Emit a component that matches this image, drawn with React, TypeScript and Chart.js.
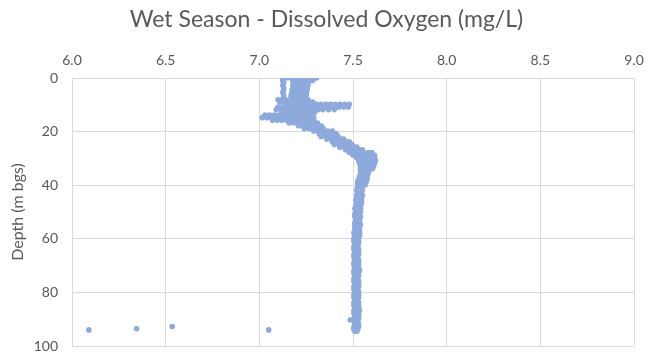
import React, { useEffect, useRef } from "react";
import { Chart, registerables } from "chart.js";

Chart.register(...registerables);

const chartTitle = "Wet Season - Dissolved Oxygen (mg/L)";
const yAxisTitle = "Depth (m bgs)";
const xTicks = [6.0, 6.5, 7.0, 7.5, 8.0, 8.5, 9.0];
const yTicks = [0, 20, 40, 60, 80, 100];

// rows: [depth (m bgs), ...dissolved oxygen readings (mg/L)]
const surfaceRows: number[][] = [
  [0.0, 7.125, 7.15, 7.17, 7.19, 7.21, 7.23, 7.25, 7.27, 7.29, 7.305],
  [0.9, 7.125, 7.18, 7.2, 7.22, 7.24, 7.265, 7.285],
  [1.8, 7.13, 7.18, 7.2, 7.22, 7.24, 7.26],
  [2.7, 7.125, 7.18, 7.2, 7.22, 7.245, 7.26],
  [3.6, 7.13, 7.18, 7.2, 7.22, 7.24, 7.255],
  [4.5, 7.13, 7.175, 7.195, 7.215, 7.235, 7.255],
  [5.4, 7.125, 7.175, 7.195, 7.215, 7.235, 7.25],
  [6.3, 7.13, 7.17, 7.19, 7.21, 7.23, 7.25],
  [7.2, 7.13, 7.17, 7.19, 7.21, 7.235, 7.25],
  [8.1, 7.1, 7.12, 7.14, 7.165, 7.19, 7.21, 7.235, 7.26],
  [9.0, 7.11, 7.135, 7.16, 7.185, 7.21, 7.235, 7.26, 7.285],
  [9.9, 7.14, 7.165, 7.19, 7.215, 7.24, 7.265],
];

const upperWingRows: number[][] = [
  [9.8, 7.28, 7.305, 7.33, 7.355, 7.38, 7.405, 7.43, 7.455, 7.48],
  [10.8, 7.1, 7.125, 7.15, 7.175, 7.2, 7.225, 7.25, 7.275, 7.3, 7.325, 7.35, 7.375, 7.4, 7.425, 7.45, 7.475],
  [11.8, 7.09, 7.115, 7.14, 7.165, 7.19, 7.215, 7.24, 7.265, 7.29, 7.315, 7.34, 7.37, 7.4],
];

const lowerWingRows: number[][] = [
  [12.8, 7.12, 7.145, 7.17, 7.195, 7.22, 7.245, 7.27, 7.295],
  [13.8, 7.03, 7.055, 7.08, 7.105, 7.13, 7.155, 7.18, 7.205, 7.23, 7.255, 7.28],
  [14.8, 7.015, 7.04, 7.065, 7.09, 7.115, 7.14, 7.165, 7.19, 7.215, 7.24, 7.265, 7.29],
  [15.8, 7.07, 7.095, 7.12, 7.145, 7.17, 7.195, 7.22, 7.245, 7.27, 7.29],
];

const transitionRows: number[][] = [
  [16.8, 7.16, 7.185, 7.21, 7.235, 7.26, 7.285, 7.31],
  [17.8, 7.21, 7.235, 7.26, 7.285, 7.31, 7.33],
  [18.8, 7.24, 7.265, 7.29, 7.315, 7.34],
  [19.8, 7.29, 7.315, 7.34, 7.365, 7.39],
  [20.8, 7.32, 7.345, 7.37, 7.395, 7.41],
  [21.8, 7.33, 7.355, 7.38, 7.405, 7.42],
  [22.8, 7.36, 7.385, 7.41, 7.435, 7.45],
  [23.8, 7.39, 7.415, 7.44, 7.465, 7.48],
  [24.8, 7.4, 7.425, 7.45, 7.475, 7.495],
  [25.8, 7.43, 7.455, 7.48, 7.505, 7.52],
  [26.8, 7.46, 7.485, 7.51, 7.535, 7.55],
  [27.8, 7.48, 7.505, 7.53, 7.555, 7.58, 7.6],
  [28.8, 7.5, 7.525, 7.55, 7.575, 7.6, 7.615],
  [29.8, 7.52, 7.545, 7.57, 7.595, 7.615],
  [30.8, 7.53, 7.555, 7.58, 7.605, 7.62],
  [31.8, 7.535, 7.56, 7.585, 7.61, 7.615],
  [32.8, 7.54, 7.565, 7.59, 7.61],
  [33.8, 7.54, 7.565, 7.59, 7.605],
  [34.8, 7.54, 7.56, 7.585],
  [35.8, 7.54, 7.56, 7.58],
  [36.8, 7.535, 7.555, 7.575],
  [37.8, 7.53, 7.55, 7.575],
  [38.8, 7.525, 7.55, 7.57],
  [39.8, 7.525, 7.545, 7.565],
];

const deepRows: number[][] = [
  [40.8, 7.525, 7.55], [41.8, 7.52, 7.55], [42.8, 7.525, 7.545], [43.8, 7.52, 7.55],
  [44.8, 7.52, 7.545], [45.8, 7.515, 7.545], [46.8, 7.52, 7.545], [47.8, 7.515, 7.54],
  [48.8, 7.51, 7.54], [49.8, 7.515, 7.54], [50.8, 7.51, 7.535], [51.8, 7.51, 7.54],
  [52.8, 7.515, 7.535], [53.8, 7.51, 7.535], [54.8, 7.51, 7.54], [55.8, 7.51, 7.535],
  [56.8, 7.51, 7.535], [57.8, 7.505, 7.535], [58.8, 7.51, 7.535], [59.8, 7.505, 7.53],
  [60.8, 7.505, 7.53], [61.8, 7.51, 7.53], [62.8, 7.505, 7.525], [63.8, 7.505, 7.53],
  [64.8, 7.51, 7.53], [65.8, 7.505, 7.53], [66.8, 7.505, 7.525], [67.8, 7.51, 7.53],
  [68.8, 7.505, 7.53], [69.8, 7.505, 7.53], [70.8, 7.51, 7.53], [71.8, 7.505, 7.535],
  [72.8, 7.505, 7.53], [73.8, 7.51, 7.53], [74.8, 7.505, 7.525], [75.8, 7.505, 7.53],
  [76.8, 7.51, 7.53], [77.8, 7.505, 7.53], [78.8, 7.505, 7.525], [79.8, 7.51, 7.53],
  [80.8, 7.505, 7.53], [81.8, 7.505, 7.53], [82.8, 7.51, 7.525], [83.8, 7.505, 7.53],
  [84.8, 7.505, 7.53], [85.8, 7.51, 7.53], [86.8, 7.505, 7.535], [87.8, 7.505, 7.53],
  [88.8, 7.51, 7.53], [89.8, 7.505, 7.53], [90.8, 7.505, 7.525], [91.8, 7.51, 7.53],
  [92.8, 7.505, 7.53], [93.8, 7.505, 7.525], [94.5, 7.51, 7.52],
];

// [dissolved oxygen, depth]
const outlierPoints: number[][] = [
  [6.09, 94.0],
  [6.345, 93.6],
  [6.535, 92.7],
  [7.05, 94.0],
  [7.485, 90.3],
];

const pointColor = "rgb(142,169,219)";
const textColor = "#595959";
const gridColor = "#d9d9d9";
const fontFamily = "Lato, 'Open Sans', sans-serif";

function rowsToPoints(rows: number[][]) {
  const pts: { x: number; y: number }[] = [];
  rows.forEach((row) => {
    const depth = row[0];
    row.slice(1).forEach((v) => pts.push({ x: v, y: depth }));
  });
  return pts;
}

const titlePlugin = {
  id: "customTitle",
  afterDraw(chart: any) {
    const ctx = chart.ctx;
    ctx.save();
    ctx.font = `23px ${fontFamily}`;
    ctx.fillStyle = textColor;
    ctx.textAlign = "center";
    ctx.textBaseline = "middle";
    ctx.fillText(chartTitle, chart.width / 2, 20);
    ctx.restore();
  },
};

function zeroPadding(scale: any) {
  scale.paddingTop = 0;
  scale.paddingBottom = 0;
  scale.paddingLeft = 0;
  scale.paddingRight = 0;
}

export default function App() {
  const canvasRef = useRef<HTMLCanvasElement | null>(null);

  useEffect(() => {
    document.body.style.margin = "0";
    const canvas = canvasRef.current;
    if (!canvas) return;
    const data = [
      ...rowsToPoints(surfaceRows),
      ...rowsToPoints(upperWingRows),
      ...rowsToPoints(lowerWingRows),
      ...rowsToPoints(transitionRows),
      ...rowsToPoints(deepRows),
      ...outlierPoints.map((p) => ({ x: p[0], y: p[1] })),
    ];
    const chart = new Chart(canvas, {
      type: "scatter",
      data: {
        datasets: [
          {
            data,
            backgroundColor: pointColor,
            borderWidth: 0,
            pointRadius: 2.8,
            pointHoverRadius: 2.8,
          },
        ],
      },
      options: {
        animation: false,
        responsive: true,
        maintainAspectRatio: false,
        layout: { padding: { left: 0, right: 19, top: 0, bottom: 12 } },
        plugins: {
          legend: { display: false },
          tooltip: { enabled: false },
          title: { display: false },
        },
        scales: {
          x: {
            type: "linear",
            position: "top",
            min: xTicks[0],
            max: xTicks[xTicks.length - 1],
            afterBuildTicks: (scale: any) => {
              scale.ticks = xTicks.map((v) => ({ value: v }));
            },
            afterFit: (scale: any) => {
              scale.height = 78;
              zeroPadding(scale);
            },
            ticks: {
              color: textColor,
              font: { family: fontFamily, size: 14 },
              padding: 9,
              maxRotation: 0,
              callback: (v: any) => Number(v).toFixed(1),
            },
            grid: { color: gridColor, lineWidth: 1, drawTicks: false },
            border: { display: true, color: gridColor },
          },
          y: {
            type: "linear",
            reverse: true,
            min: yTicks[0],
            max: yTicks[yTicks.length - 1],
            afterBuildTicks: (scale: any) => {
              scale.ticks = yTicks.map((v) => ({ value: v }));
            },
            afterFit: (scale: any) => {
              scale.width = 72;
              zeroPadding(scale);
            },
            ticks: {
              color: textColor,
              font: { family: fontFamily, size: 14 },
              padding: 14,
            },
            title: {
              display: true,
              text: yAxisTitle,
              color: textColor,
              font: { family: fontFamily, size: 16 },
              padding: { top: 8, bottom: 0 },
            },
            grid: { color: gridColor, lineWidth: 1, drawTicks: false },
            border: { display: true, color: gridColor },
          },
        },
      },
      plugins: [titlePlugin],
    });
    return () => chart.destroy();
  }, []);

  return (
    <div style={{ width: 653, height: 358, position: "relative", background: "#fff" }}>
      <canvas ref={canvasRef} />
    </div>
  );
}
